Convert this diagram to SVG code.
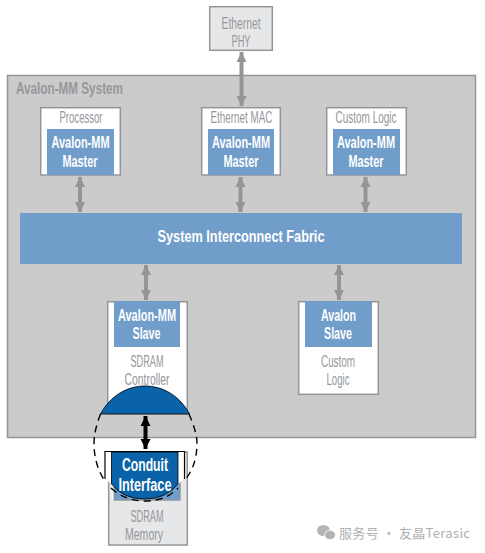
<svg xmlns="http://www.w3.org/2000/svg" width="485" height="553" viewBox="0 0 485 553">
<style>
text{font-family:"Liberation Sans Narrow","Liberation Sans",sans-serif;text-anchor:middle;font-size:16px;lengthAdjust:spacingAndGlyphs}
.g{fill:#96979b}
.w{fill:#fff;font-weight:bold}
.box{fill:#fff;stroke:#939598;stroke-width:1.5}
.ext{fill:#e6e7e8;stroke:#939598;stroke-width:1.5}
.bl{fill:#709dca}
.a{stroke:#939598;stroke-width:4;fill:none;marker-start:url(#h);marker-end:url(#h)}
</style>
<defs>
<marker id="h" markerUnits="userSpaceOnUse" markerWidth="12" markerHeight="12" refX="10" refY="6" orient="auto-start-reverse"><path d="M0 1L10 6L0 11Z" fill="#939598"/></marker>
<marker id="k" markerUnits="userSpaceOnUse" markerWidth="12" markerHeight="12" refX="10" refY="6" orient="auto-start-reverse"><path d="M0 1L10 6L0 11Z" fill="#000"/></marker>
</defs>
<rect x="7.500" y="75.500" width="468" height="362" fill="#cbcbcb" stroke="#939598" stroke-width="1.500"/>
<text x="69.500" y="94" class="g" style="font-weight:bold;font-size:16px" textLength="107" lengthAdjust="spacingAndGlyphs">Avalon-MM System</text>
<g id="ethernet-phy"><rect class="ext" x="209.700" y="6.700" width="62.600" height="43.600"/><text x="241" y="29" class="g" textLength="39" lengthAdjust="spacingAndGlyphs">Ethernet</text><text x="241" y="47" class="g" textLength="19" lengthAdjust="spacingAndGlyphs">PHY</text></g>
<g id="processor"><rect class="box" x="40.700" y="107.700" width="79.600" height="67.300"/><rect class="bl" x="47" y="129" width="67" height="46"/><text x="81" y="123" class="g" textLength="43" lengthAdjust="spacingAndGlyphs">Processor</text><text x="80.500" y="148" class="w" textLength="58" lengthAdjust="spacingAndGlyphs">Avalon-MM</text><text x="80" y="167" class="w" textLength="35" lengthAdjust="spacingAndGlyphs">Master</text></g>
<g id="ethernet-mac"><rect class="box" x="201.700" y="107.700" width="78.600" height="67.300"/><rect class="bl" x="208" y="129" width="66" height="46"/><text x="241.500" y="123" class="g" textLength="62" lengthAdjust="spacingAndGlyphs">Ethernet MAC</text><text x="241" y="148" class="w" textLength="58" lengthAdjust="spacingAndGlyphs">Avalon-MM</text><text x="241" y="167" class="w" textLength="35" lengthAdjust="spacingAndGlyphs">Master</text></g>
<g id="custom-logic-master"><rect class="box" x="326.700" y="107.700" width="79.600" height="67.300"/><rect class="bl" x="333" y="129" width="67" height="46"/><text x="366" y="123" class="g" textLength="61" lengthAdjust="spacingAndGlyphs">Custom Logic</text><text x="366" y="148" class="w" textLength="58" lengthAdjust="spacingAndGlyphs">Avalon-MM</text><text x="366" y="167" class="w" textLength="35" lengthAdjust="spacingAndGlyphs">Master</text></g>
<g id="fabric"><rect class="bl" x="20" y="213" width="442" height="51"/><text x="241" y="242" class="w" style="font-size:17px" textLength="167" lengthAdjust="spacingAndGlyphs">System Interconnect Fabric</text></g>
<g id="sdram-controller"><rect class="box" x="107.700" y="301.700" width="79.600" height="112"/><rect class="bl" x="114" y="301" width="66" height="46"/><text x="147" y="321" class="w" textLength="58" lengthAdjust="spacingAndGlyphs">Avalon-MM</text><text x="146.500" y="339" class="w" textLength="28" lengthAdjust="spacingAndGlyphs">Slave</text><text x="147" y="367" class="g" textLength="33" lengthAdjust="spacingAndGlyphs">SDRAM</text><text x="147" y="385" class="g" textLength="45" lengthAdjust="spacingAndGlyphs">Controller</text></g>
<g id="custom-logic-slave"><rect class="box" x="298.700" y="301.700" width="79.600" height="92.600"/><rect class="bl" x="305" y="301" width="67" height="46"/><text x="338.500" y="321" class="w" textLength="35" lengthAdjust="spacingAndGlyphs">Avalon</text><text x="338" y="339" class="w" textLength="28" lengthAdjust="spacingAndGlyphs">Slave</text><text x="338" y="367" class="g" textLength="34" lengthAdjust="spacingAndGlyphs">Custom</text><text x="338" y="385" class="g" textLength="23" lengthAdjust="spacingAndGlyphs">Logic</text></g>
<g id="sdram-memory"><rect class="ext" x="108.700" y="452" width="78.600" height="93"/><rect x="114" y="452" width="66" height="48" fill="#709dca" stroke="#939598"/><text x="147" y="522" class="g" textLength="33" lengthAdjust="spacingAndGlyphs">SDRAM</text><text x="144" y="540" class="g" textLength="38" lengthAdjust="spacingAndGlyphs">Memory</text></g>
<g id="connectors">
<path class="a" d="M241.500 52V106"/>
<path class="a" d="M80 177V212"/>
<path class="a" d="M240.500 177V212"/>
<path class="a" d="M365.500 177V212"/>
<path class="a" d="M146 265V300"/>
<path class="a" d="M339 265V300"/>
</g>
<g id="conduit-callout">
<path d="M105 479V451.500H184.500V479L178 484V500H111.500V484Z" fill="#fff"/>
<rect x="114" y="485" width="66" height="15" fill="#709dca" stroke="#939598"/>
<path d="M100.500 414C96 426 94 435 94 443C94 458 98 471 105 481M189 414C194 426 197 435 197 443C197 458 193 471 184 481M111 488Q125 501 145 501Q166 501 178 488" fill="none" stroke="#000" stroke-width="1.400" stroke-dasharray="7 5"/>
<path d="M100.500 414C110 396 127 386 145 386C163 386 180 396 189.500 414Z" fill="#0a62a8" stroke="#000" stroke-width="0.800"/>
<path d="M105 479V451.500H184.500V479" fill="none" stroke="#000" stroke-width="1.200"/>
<path d="M111.500 452H178V484Q166 499 145 499Q123 499 111.500 484Z" fill="#0a62a8" stroke="#000" stroke-width="0.800"/>
<path d="M145.500 416V449" stroke="#000" stroke-width="4" fill="none" marker-start="url(#k)" marker-end="url(#k)"/>
<text x="145" y="471" class="w" style="font-size:18px" textLength="46" lengthAdjust="spacingAndGlyphs">Conduit</text>
<text x="145" y="491" class="w" style="font-size:18px" textLength="53" lengthAdjust="spacingAndGlyphs">Interface</text>
</g>
<g id="watermark">
<ellipse cx="323.500" cy="530.500" rx="6.500" ry="5.500" fill="#b4b4b4"/>
<ellipse cx="330" cy="535" rx="5.500" ry="4.700" fill="#b4b4b4" stroke="#fff" stroke-width="0.800"/>
<text x="339" y="538" style="text-anchor:start;font-family:'Noto Sans CJK SC','Noto Sans',sans-serif;font-size:13px;fill:#b0b0b0" textLength="131" lengthAdjust="spacing">服务号 · 友晶Terasic</text>
</g>
</svg>
